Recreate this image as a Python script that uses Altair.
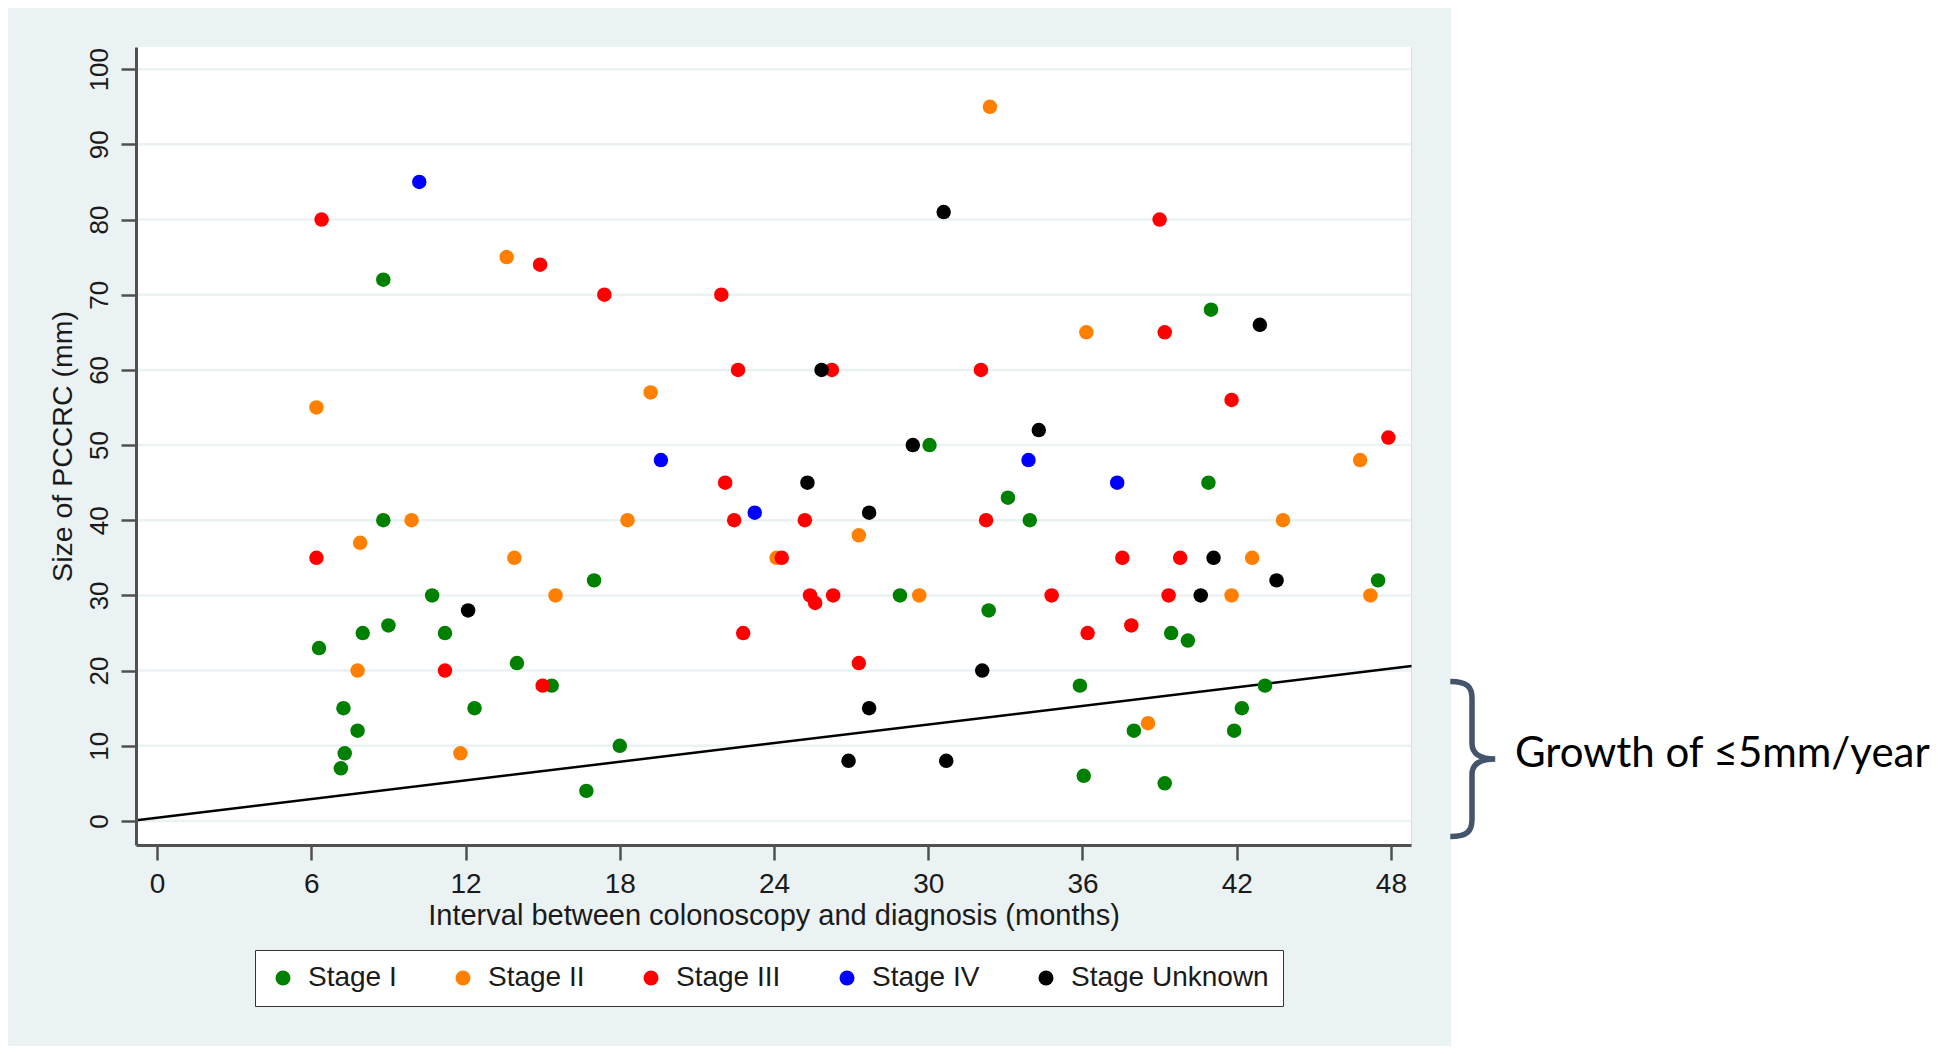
import altair as alt
import pandas as pd

# ---- data ----
stage_names = ["Stage I", "Stage II", "Stage III", "Stage IV", "Stage Unknown"]
stage_colors = ["#008000", "#FF8000", "#FF0000", "#0000FF", "#000000"]

stage1_x = [8.8, 41.0, 30.05, 40.9, 33.1, 8.8, 33.95, 17.0, 47.5, 10.7, 28.9, 32.35,
            9.0, 8.0, 11.2, 39.45, 40.1, 6.3, 14.0, 15.35, 35.9, 43.1, 7.25, 12.35,
            42.2, 7.8, 38.0, 41.9, 18.0, 7.3, 7.15, 36.05, 39.2, 16.7]
stage1_y = [72, 68, 50, 45, 43, 40, 40, 32, 32, 30, 30, 28,
            26, 25, 25, 25, 24, 23, 21, 18, 18, 18, 15, 15,
            15, 12, 12, 12, 10, 9, 7, 6, 5, 4]

stage2_x = [32.4, 13.6, 36.15, 19.2, 6.2, 46.8, 9.9, 18.3, 43.8, 27.3, 7.9, 13.9,
            24.1, 42.6, 15.5, 29.65, 41.8, 47.2, 7.8, 38.55, 11.8]
stage2_y = [95, 75, 65, 57, 55, 48, 40, 40, 40, 38, 37, 35,
            35, 35, 30, 30, 30, 30, 20, 13, 9]

stage3_x = [6.4, 39.0, 14.9, 17.4, 21.95, 39.2, 22.6, 26.25, 32.05, 41.8, 47.9, 22.1,
            22.45, 25.2, 32.25, 6.2, 24.3, 37.55, 39.8, 25.4, 25.6, 26.3, 34.8, 39.35,
            37.9, 22.8, 36.2, 27.3, 11.2, 15.0]
stage3_y = [80, 80, 74, 70, 70, 65, 60, 60, 60, 56, 51, 45,
            40, 40, 40, 35, 35, 35, 35, 30, 29, 30, 30, 30,
            26, 25, 25, 21, 20, 18]

stage4_x = [10.2, 19.6, 33.9, 37.35, 23.25]
stage4_y = [85, 48, 48, 45, 41]

stage5_x = [30.6, 42.9, 25.85, 34.3, 29.4, 25.3, 27.7, 41.1, 43.55, 40.6, 12.1, 32.1,
            27.7, 26.9, 30.7]
stage5_y = [81, 66, 60, 52, 50, 45, 41, 35, 32, 30, 28, 20,
            15, 8, 8]

# reference line: growth of 5 mm / year (end points)
line_x = [-0.8, 48.8]
line_y = [0.1, 20.6]

x_ticks = [0, 6, 12, 18, 24, 30, 36, 42, 48]
y_ticks = [0, 10, 20, 30, 40, 50, 60, 70, 80, 90, 100]

x_title = "Interval between colonoscopy and diagnosis (months)"
y_title = "Size of PCCRC (mm)"
note_text = "Growth of \u22645mm/year"

# ---- build tables ----
rows = []
series = [stage1_x, stage2_x, stage3_x, stage4_x, stage5_x]
series_y = [stage1_y, stage2_y, stage3_y, stage4_y, stage5_y]
idx = 0
for name, xs, ys in zip(stage_names, series, series_y):
    for a, b in zip(xs, ys):
        rows.append({"months": a, "size": b, "stage": name, "idx": idx})
        idx += 1
df = pd.DataFrame(rows)
line_df = pd.DataFrame({"months": line_x, "size": line_y})
grid_df = pd.DataFrame({"size": y_ticks})
one = pd.DataFrame({"a": [0]})

FONT = "Liberation Sans"
AXC = "#505050"
TXT = "#1a1a1a"
W, H = 1275, 798

xscale = alt.Scale(domain=[-0.82, 48.78], nice=False, zero=False)
yscale = alt.Scale(domain=[-3.2, 102.95], nice=False, zero=False)

x_axis = alt.Axis(values=x_ticks, grid=False, labelFontSize=28, labelColor=TXT,
                  labelFont=FONT, tickSize=15, tickWidth=2.5, tickColor=AXC,
                  domainColor=AXC, domainWidth=3, labelPadding=10, labelOverlap=False,
                  titleFontSize=29, titleFontWeight="normal", titleColor=TXT,
                  titleFont=FONT, titlePadding=3, zindex=1)
y_axis = alt.Axis(values=y_ticks, grid=False,
                  labelAngle=270, labelAlign="center", labelBaseline="bottom",
                  labelFontSize=26, labelColor=TXT, labelFont=FONT,
                  tickSize=15, tickWidth=2.5, tickColor=AXC, domainColor=AXC,
                  domainWidth=3, labelPadding=9, labelOverlap=False,
                  titleFontSize=28.5, titleFontWeight="normal", titleColor=TXT,
                  titleFont=FONT, titlePadding=9, zindex=1)

plot_bg = alt.Chart(one).mark_rect(color="white").encode(
    x=alt.value(0), x2=alt.value(W), y=alt.value(0), y2=alt.value(H)
)

grid = alt.Chart(grid_df).mark_rule(color="#EAF2F3", strokeWidth=2.5).encode(
    y=alt.Y("size:Q", scale=yscale, axis=y_axis, title=y_title)
)

ref_line = alt.Chart(line_df).mark_line(color="black", strokeWidth=2.5).encode(
    x=alt.X("months:Q", scale=xscale, axis=x_axis, title=x_title),
    y=alt.Y("size:Q", scale=yscale, title=y_title),
)

points = alt.Chart(df).mark_circle(size=210, opacity=1).encode(
    x=alt.X("months:Q", scale=xscale, title=x_title),
    y=alt.Y("size:Q", scale=yscale, title=y_title),
    color=alt.Color("stage:N",
                    scale=alt.Scale(domain=stage_names, range=stage_colors),
                    legend=alt.Legend(title=None, orient="none", legendX=119, legendY=903,
                                      direction="horizontal", columns=5,
                                      symbolType="circle", symbolSize=225,
                                      symbolStrokeWidth=0, labelFontSize=28,
                                      labelFont=FONT, labelColor=TXT, labelLimit=400,
                                      labelOffset=11, columnPadding=52, padding=14,
                                      strokeColor="#333333", fillColor="white")),
    order=alt.Order("idx:Q"),
)

white_side = alt.Chart(one).mark_rect(color="white").encode(
    x=alt.value(1315), x2=alt.value(2100), y=alt.value(-60), y2=alt.value(1100)
)

brace_path = ("M-0.28,-1 C-0.06,-1 0,-0.93 0,-0.78 L0,-0.2 C0,-0.07 0.1,0 0.3,0 "
              "C0.1,0 0,0.07 0,0.2 L0,0.78 C0,0.93 -0.06,1 -0.28,1")
brace = alt.Chart(one).mark_point(shape=brace_path, filled=False, size=24025,
                                  strokeWidth=5.5, color="#44546A", opacity=1).encode(
    x=alt.value(1336), y=alt.value(712)
)

note = alt.Chart(one).mark_text(text=note_text, font="Lato", fontSize=42,
                                align="left", baseline="alphabetic",
                                color="black").encode(
    x=alt.value(1379), y=alt.value(720)
)

chart = alt.layer(plot_bg, grid, ref_line, points, white_side, brace, note).properties(
    width=W, height=H,
    autosize=alt.AutoSizeParams(type="none"),
    padding={"left": 128, "top": 39, "right": 522, "bottom": 201},
    background="#EAF2F3",
).configure_view(stroke="transparent").configure_legend(strokeWidth=3).configure(font=FONT)

chart.save("out.html", embed_options={"renderer": "svg", "actions": False})
